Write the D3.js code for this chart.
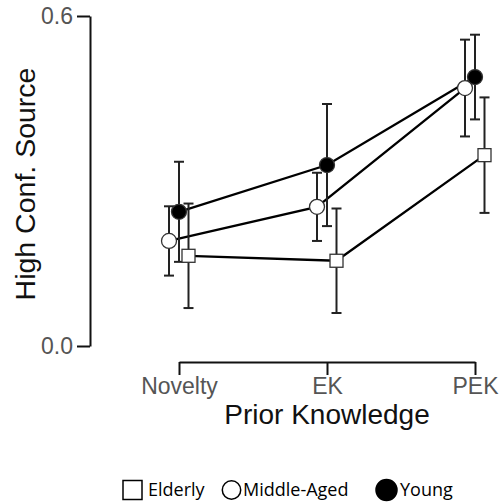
<!DOCTYPE html>
<html>
<head>
<meta charset="utf-8">
<script src="https://cdn.jsdelivr.net/npm/d3@7"></script>
<style>
  body { margin: 0; background: #fff; }
  svg { display: block; }
</style>
</head>
<body>
<div id="chart"></div>
<script>
// data
const categories = ["Novelty", "EK", "PEK"];
const seriesNames = ["Elderly", "Middle-Aged", "Young"];
const elderlyMean = [0.164, 0.155, 0.347];
const elderlyErr = [0.095, 0.095, 0.105];
const middleMean = [0.191, 0.253, 0.469];
const middleErr = [0.063, 0.062, 0.088];
const youngMean = [0.244, 0.329, 0.489];
const youngErr = [0.091, 0.111, 0.077];
const yTicks = [0, 0.6];

const width = 501, height = 503;

const svg = d3.select("#chart").append("svg")
    .attr("width", width)
    .attr("height", height);

const y = d3.scaleLinear().domain([0, 0.6]).range([346, 16]);
const x = d3.scalePoint().domain(categories).range([179, 475]);

const series = [
    {name: seriesNames[0], mean: elderlyMean, err: elderlyErr, shape: "square", fill: "#fff", dx: 9.5},
    {name: seriesNames[1], mean: middleMean, err: middleErr, shape: "circle", fill: "#fff", dx: -10},
    {name: seriesNames[2], mean: youngMean, err: youngErr, shape: "circle", fill: "#000", dx: 0}
];

// axes
const yAxis = svg.append("g")
    .attr("transform", "translate(90,0)")
    .call(d3.axisLeft(y).tickValues(yTicks).tickSize(13).tickSizeOuter(0).tickPadding(4)
        .tickFormat(d3.format(".1f")));
yAxis.select(".domain").attr("stroke", "#111").attr("stroke-width", 2);
yAxis.selectAll(".tick line").attr("stroke", "#111").attr("stroke-width", 2);
yAxis.selectAll(".tick text")
    .style("font-family", "'Liberation Sans', Arial, sans-serif")
    .style("font-size", "23px")
    .attr("fill", "#555");

const xAxis = svg.append("g")
    .attr("transform", "translate(0,362)")
    .call(d3.axisBottom(x).tickSize(13).tickSizeOuter(0).tickPadding(3));
xAxis.select(".domain").attr("stroke", "#111").attr("stroke-width", 2);
xAxis.selectAll(".tick line").attr("stroke", "#111").attr("stroke-width", 2);
xAxis.selectAll(".tick text")
    .style("font-family", "'Liberation Sans', Arial, sans-serif")
    .style("font-size", "23px")
    .attr("fill", "#555");

// axis titles
svg.append("text")
    .attr("x", x("EK"))
    .attr("y", 424)
    .attr("text-anchor", "middle")
    .style("font-family", "'Liberation Sans', Arial, sans-serif")
    .style("font-size", "28px")
    .attr("fill", "#111")
    .text("Prior Knowledge");

svg.append("text")
    .attr("transform", "translate(35," + (y(0.3) + 3) + ") rotate(-90)")
    .attr("text-anchor", "middle")
    .style("font-family", "'Liberation Sans', Arial, sans-serif")
    .style("font-size", "28.5px")
    .attr("fill", "#111")
    .text("High Conf. Source");

const plot = svg.append("g");

// connecting lines
const line = d3.line();
series.forEach(s => {
    const pts = categories.map((c, i) => [x(c) + s.dx, y(s.mean[i])]);
    plot.append("path")
        .attr("d", line(pts))
        .attr("fill", "none")
        .attr("stroke", "#000")
        .attr("stroke-width", 2.3);
});

// error bars
series.forEach(s => {
    categories.forEach((c, i) => {
        const cx = x(c) + s.dx;
        const top = y(s.mean[i] + s.err[i]);
        const bot = y(s.mean[i] - s.err[i]);
        const g = plot.append("g").attr("stroke", "#222").attr("stroke-width", 2);
        g.append("line").attr("x1", cx).attr("x2", cx).attr("y1", top).attr("y2", bot);
        g.append("line").attr("x1", cx - 5).attr("x2", cx + 5).attr("y1", top).attr("y2", top);
        g.append("line").attr("x1", cx - 5).attr("x2", cx + 5).attr("y1", bot).attr("y2", bot);
    });
});

// markers
series.forEach(s => {
    categories.forEach((c, i) => {
        const cx = x(c) + s.dx;
        const cy = y(s.mean[i]);
        if (s.shape === "square") {
            plot.append("rect")
                .attr("x", cx - 6.5).attr("y", cy - 6.5)
                .attr("width", 13).attr("height", 13)
                .attr("fill", s.fill).attr("stroke", "#333").attr("stroke-width", 1.3);
        } else {
            plot.append("circle")
                .attr("cx", cx).attr("cy", cy).attr("r", 7.5)
                .attr("fill", s.fill).attr("stroke", "#333").attr("stroke-width", 1.3);
        }
    });
});

// legend
const legendX = [123, 222, 377];
const legendGap = [25, 21, 23];
const legend = svg.append("g").attr("transform", "translate(0,490)");
series.forEach((s, i) => {
    const lx = legendX[i];
    if (s.shape === "square") {
        legend.append("rect")
            .attr("x", lx).attr("y", -9.5).attr("width", 19).attr("height", 19)
            .attr("fill", "#fff").attr("stroke", "#000").attr("stroke-width", 1.5);
    } else {
        legend.append("circle")
            .attr("cx", lx + 9.5).attr("cy", 0).attr("r", s.fill === "#000" ? 10.5 : 9.2)
            .attr("fill", s.fill).attr("stroke", "#000").attr("stroke-width", 1.5);
    }
    legend.append("text")
        .attr("x", lx + legendGap[i])
        .attr("y", 0)
        .attr("dy", "0.35em")
        .style("font-family", "'Open Sans', sans-serif")
        .style("font-size", "18px")
        .attr("fill", "#000")
        .text(s.name);
});
</script>
</body>
</html>
